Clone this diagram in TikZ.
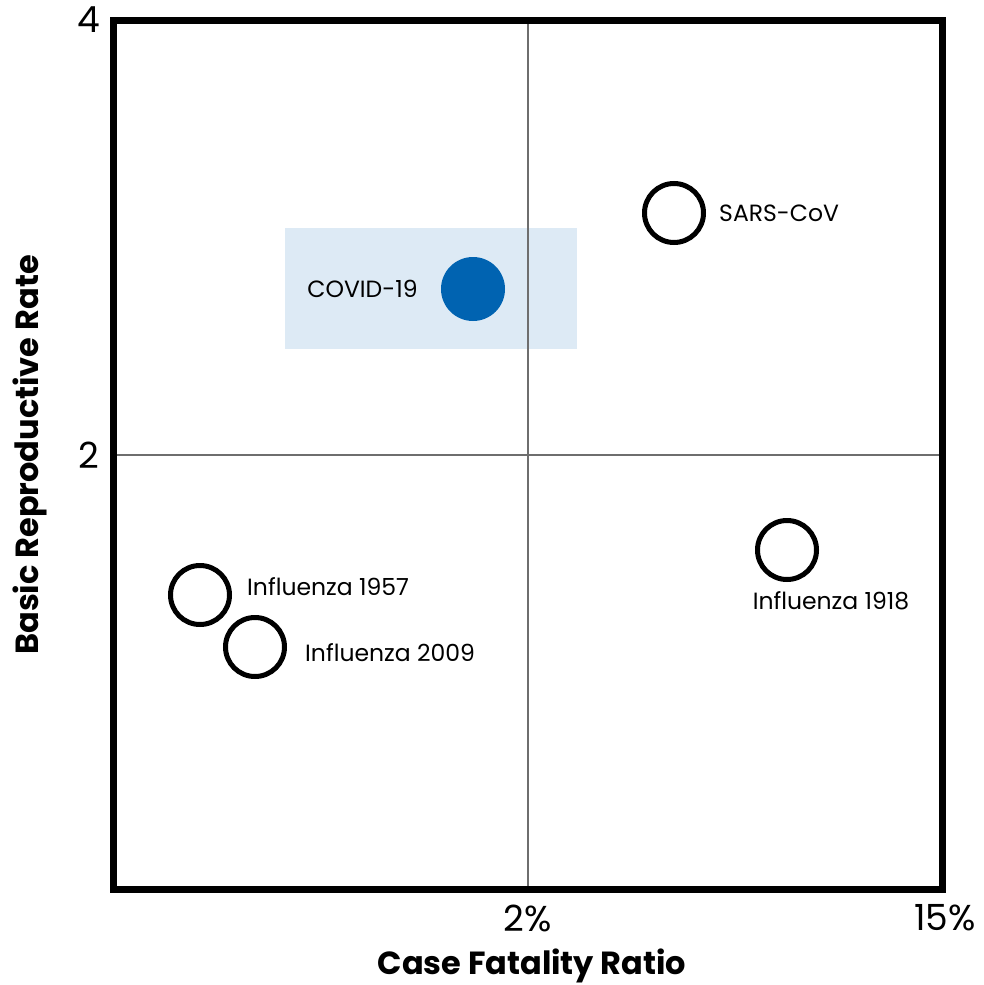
\documentclass[tikz,border=0pt]{standalone}
\usepackage{fontspec}
\setmainfont{Poppins}
\usepackage{xcolor}
\usepackage{tikz}
\usetikzlibrary{positioning}
\definecolor{covidblue}{HTML}{0063B1}
\definecolor{boxblue}{HTML}{DDEAF5}
\definecolor{gridgray}{HTML}{6E6E6E}
\tikzset{virus/.style={circle, draw=black, line width=5pt, minimum size=59pt, inner sep=0pt}}
\tikzset{tag/.style={font=\fontsize{23.5}{26}\selectfont, inner sep=0pt}}
\tikzset{tick/.style={font=\fontsize{36}{40}\selectfont, inner sep=0pt}}
\tikzset{axis title/.style={font=\fontsize{32}{36}\selectfont\bfseries, inner sep=0pt}}

\begin{document}
\begin{tikzpicture}[x=1pt,y=-1pt]
	\useasboundingbox (0,0) rectangle (983,985);
	% highlight behind COVID-19
	\fill [boxblue] (285,228) rectangle (577,349);
	\draw [gridgray, line width=2pt] (528,20) -- (528,889);
	\draw [gridgray, line width=2pt] (113.5,455) -- (942,455);
	\draw [black, line width=7pt] (113.5,20) rectangle (942,889);
	% ticks
	\node [tick] (ytop) at (89,20) {4};
	\node [tick] (ymid) at (89,455) {2};
	\node [tick] (xmid) at (528,918) {2\%};
	\node [tick] (xend) at (945,918) {15\%};
	\node [axis title] (xtitle) at (532,966) {Case Fatality Ratio};
	\node [axis title, rotate=90] (ytitle) at (30,455) {Basic Reproductive Rate};
	% viruses
	\node [circle, fill=covidblue, minimum size=64pt, inner sep=0pt] (covid) at (473,289) {};
	\node [tag, left=23pt of covid] (covidlbl) {COVID-19};
	\node [virus] (sars) at (674,213) {};
	\node [tag, right=13pt of sars] (sarslbl) {SARS-CoV};
	\node [virus] (flu57) at (200,595) {};
	\node [tag, right=15pt of flu57, yshift=8pt] (flu57lbl) {Influenza 1957};
	\node [virus] (flu09) at (255,647) {};
	\node [tag, right=18pt of flu09, yshift=-6pt] (flu09lbl) {Influenza 2009};
	\node [virus] (flu18) at (787,550) {};
	\node [tag, below=9pt of flu18, xshift=44pt] (flu18lbl) {Influenza 1918};
\end{tikzpicture}
\end{document}
